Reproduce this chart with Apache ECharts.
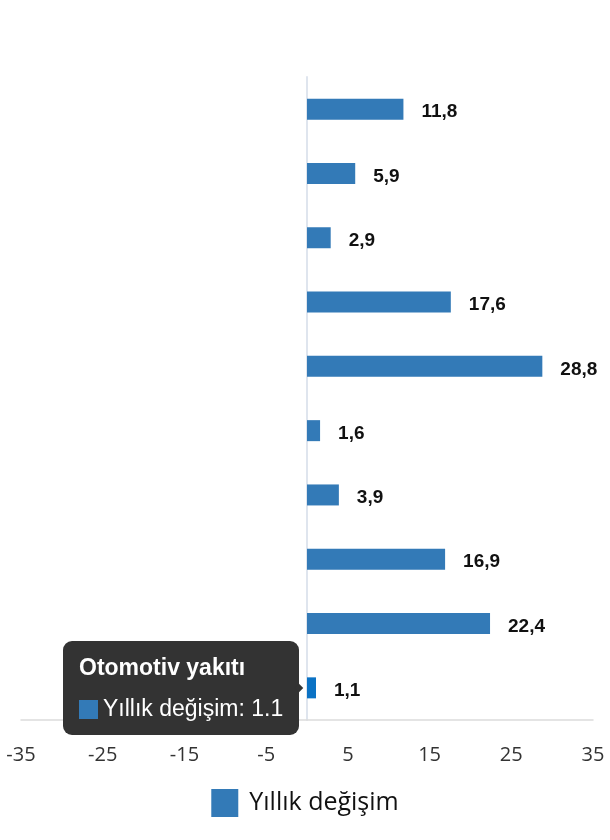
<!DOCTYPE html>
<html>
<head>
<meta charset="utf-8">
<script src="https://cdn.jsdelivr.net/npm/echarts@6/dist/echarts.min.js"></script>
<style>
html,body{margin:0;padding:0;background:#fff;}
#chart{width:610px;height:840px;}
</style>
</head>
<body>
<div id="chart"></div>
<script>
var categories = ["Gıda", "Giyim", "Konut", "Ev eşyası", "Sağlık", "Ulaştırma", "Haberleşme", "Eğlence", "Eğitim", "Otomotiv yakıtı"];
var seriesName = "Yıllık değişim";
var values = [11.8, 5.9, 2.9, 17.6, 28.8, 1.6, 3.9, 16.9, 22.4, 1.1];
var xTicks = { min: -35, max: 35, interval: 10 };
var tooltipIndex = 9;

var BLUE = '#337ab7';
var chart = echarts.init(document.getElementById('chart'));
chart.setOption({
  animation: false,
  grid: { left: 21, right: 17, top: 77, bottom: 120, containLabel: false },
  tooltip: {
    trigger: 'item',
    position: 'left',
    alwaysShowContent: true,
    backgroundColor: '#333333',
    borderColor: '#333333',
    borderWidth: 0,
    borderRadius: 9,
    padding: [13, 16, 13, 16],
    extraCssText: 'box-shadow:none;',
    textStyle: { color: '#fff', fontFamily: 'Liberation Sans, Arial, sans-serif', fontSize: 22 },
    formatter: function (p) {
      return '<div style="font-weight:bold;font-size:23px;line-height:27px;margin-bottom:14px;color:#fff">' + p.name + '</div>' +
        '<div style="font-size:23px;line-height:27px;color:#fff;white-space:nowrap">' +
        '<span style="display:inline-block;width:19px;height:19px;background:' + BLUE + ';vertical-align:-3px;margin-right:5px"></span>' +
        p.seriesName + ': ' + p.value + '</div>';
    }
  },
  legend: {
    bottom: 18,
    left: 'center',
    icon: 'rect',
    itemWidth: 27,
    itemHeight: 28,
    itemGap: 20,
    textStyle: { fontSize: 25, color: '#111', fontFamily: 'Open Sans, Noto Sans, sans-serif', padding: [0, 0, 0, 6] },
    data: [seriesName]
  },
  xAxis: {
    type: 'value',
    min: xTicks.min,
    max: xTicks.max,
    interval: xTicks.interval,
    axisLine: { show: true, onZero: false, lineStyle: { color: '#dcdcdc', width: 1.5 } },
    axisTick: { show: false },
    splitLine: { show: false },
    axisLabel: { fontSize: 20, color: '#333', margin: 25, fontFamily: 'Open Sans, Noto Sans, sans-serif' }
  },
  yAxis: {
    type: 'category',
    inverse: true,
    data: categories,
    axisLine: { show: true, lineStyle: { color: '#dfe5ee', width: 2 } },
    axisTick: { show: false },
    axisLabel: { show: false },
    splitLine: { show: false }
  },
  series: [{
    name: seriesName,
    type: 'bar',
    data: values,
    barWidth: 21,
    itemStyle: { color: BLUE },
    emphasis: { itemStyle: { color: '#0b72c4' } },
    label: {
      show: true,
      position: 'right',
      distance: 18,
      offset: [0, 3],
      color: '#111',
      fontWeight: 'bold',
      fontSize: 19,
      fontFamily: 'Liberation Sans, Arial, sans-serif',
      formatter: function (p) { return p.value.toFixed(1).replace('.', ','); }
    }
  }]
});
setTimeout(function () {
  chart.dispatchAction({ type: 'highlight', seriesIndex: 0, dataIndex: tooltipIndex });
  chart.dispatchAction({ type: 'showTip', seriesIndex: 0, dataIndex: tooltipIndex });
}, 50);
</script>
</body>
</html>
